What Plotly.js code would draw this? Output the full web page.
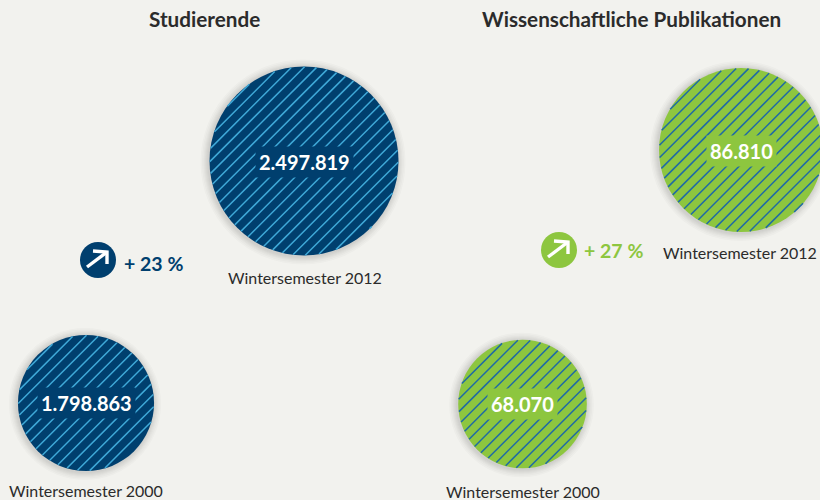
<!DOCTYPE html>
<html><head><meta charset="utf-8">
<script src="https://cdn.plot.ly/plotly-3.0.1.min.js"></script>
<style>html,body{margin:0;padding:0;background:#f2f2ee}#c{width:820px;height:500px}</style>
</head><body><div id="c"></div>
<script>
const panels = ["Studierende", "Wissenschaftliche Publikationen"];
const periods = ["Wintersemester 2012", "Wintersemester 2000"];
const studentValues = [2497819, 1798863];
const studentLabels = ["2.497.819", "1.798.863"];
const publicationValues = [86810, 68070];
const publicationLabels = ["86.810", "68.070"];
const changes = ["+ 23 %", "+ 27 %"];

// placement on the pixel-like canvas
const studentX = [304, 86], studentY = [161, 403];
const pubX = [741, 522.5], pubY = [150, 404];
const studentScale = 94.5 / 2497819, pubScale = 82 / 86810;
const navy = "#003f6e", sky = "#3fa9d8", green = "#8dc63f", hatchBlue = "#1f6aa5";

function hatch(cx, cy, r, gap, phase) {
  const xs = [], ys = [];
  const k0 = Math.ceil((cx + cy - r * Math.SQRT2 - phase) / gap);
  for (let k = k0; phase + k * gap < cx + cy + r * Math.SQRT2; k++) {
    const c = phase + k * gap;              // line x + y = c
    const d = (c - cx - cy) / Math.SQRT2;   // signed distance from centre
    if (Math.abs(d) >= r) continue;
    const h = Math.sqrt(r * r - d * d) / Math.SQRT2;
    const mx = cx + d / Math.SQRT2, my = cy + d / Math.SQRT2;
    xs.push(mx - h, mx + h, null);
    ys.push(my + h, my - h, null);
  }
  return {xs, ys};
}

const traces = [];
function group(xs, ys, vals, scale, fill, line, gap, phases, width) {
  const diam = vals.map(v => 2 * v * scale);
  // soft shadow, slightly low and to the left of the disc
  [16, 13, 10, 8, 6, 4, 2].forEach(extra => traces.push({
    type: "scatter", mode: "markers", x: xs.map(x => x - 1), y: ys.map(y => y + 1), hoverinfo: "skip",
    marker: {size: diam.map(d => d + extra), sizemode: "diameter", opacity: 1, color: "rgba(60,60,50,0.022)", line: {width: 0}}
  }));
  traces.push({
    type: "scatter", mode: "markers", x: xs, y: ys, hoverinfo: "skip",
    marker: {size: diam, sizemode: "diameter", opacity: 1, color: fill, line: {width: 0}}
  });
  let hx = [], hy = [];
  xs.forEach((x, i) => {
    const h = hatch(x, ys[i], diam[i] / 2 - 0.3, gap, phases[i]);
    hx = hx.concat(h.xs); hy = hy.concat(h.ys);
  });
  traces.push({type: "scatter", mode: "lines", x: hx, y: hy, hoverinfo: "skip",
    connectgaps: false, line: {color: line, width: width}});
}
group(studentX, studentY, studentValues, studentScale, navy, sky, 12.6, [6, 6], 1.5);
group(pubX, pubY, publicationValues, pubScale, green, hatchBlue, 12.6, [10.8, 1.2], 1.5);

// arrow badges
const badgeX = [98, 559], badgeY = [260, 250], badgeColor = [navy, green];
traces.push({type: "scatter", mode: "markers", x: badgeX, y: badgeY, hoverinfo: "skip",
  marker: {size: 36, opacity: 1, color: badgeColor, line: {width: 0}}});
const ax = [], ay = [];
badgeX.forEach((x, i) => {
  const y = badgeY[i];
  ax.push(x - 11, x + 9, null, x - 5, x + 9, x + 9);
  ay.push(y + 7, y - 8, null, y - 9, y - 8, y + 4);
  if (i === 0) { ax.push(null); ay.push(null); }
});
traces.push({type: "scatter", mode: "lines", x: ax, y: ay, hoverinfo: "skip",
  line: {color: "#ffffff", width: 3.4}});

const F = "Lato, 'Open Sans', sans-serif";
function note(x, y, text, size, color, weight, extra) {
  return Object.assign({x, y, xref: "x", yref: "y", text, showarrow: false,
    font: {family: F, size, color, weight: weight || 400}, xanchor: "center", yanchor: "middle"}, extra || {});
}
const annotations = [
  note(204, 19, panels[0], 20.7, "#2b2b2b", 700),
  note(631, 19, panels[1], 20.7, "#2b2b2b", 700),
  note(304, 162, studentLabels[0], 20, "#ffffff", 700, {bgcolor: navy, borderpad: 3}),
  note(86, 403, studentLabels[1], 20, "#ffffff", 700, {bgcolor: navy, borderpad: 3}),
  note(741, 151, publicationLabels[0], 20, "#ffffff", 700, {bgcolor: green, borderpad: 3}),
  note(522.5, 404, publicationLabels[1], 20, "#ffffff", 700, {bgcolor: green, borderpad: 3}),
  note(304.5, 277, periods[0], 16, "#2b2b2b"),
  note(740, 252, periods[0], 16, "#2b2b2b"),
  note(86, 490, periods[1], 16, "#2b2b2b"),
  note(522.5, 491, periods[1], 16, "#2b2b2b"),
  note(153.5, 263, changes[0], 19.5, navy, 700),
  note(613.5, 250, changes[1], 19.5, green, 700)
];

Plotly.newPlot("c", traces, {
  width: 820, height: 500, showlegend: false,
  paper_bgcolor: "#f2f2ee", plot_bgcolor: "#f2f2ee",
  margin: {l: 0, r: 0, t: 0, b: 0},
  xaxis: {range: [0, 820], visible: false, fixedrange: true},
  yaxis: {range: [500, 0], visible: false, fixedrange: true},
  annotations
}, {displayModeBar: false, staticPlot: true});
</script></body></html>
